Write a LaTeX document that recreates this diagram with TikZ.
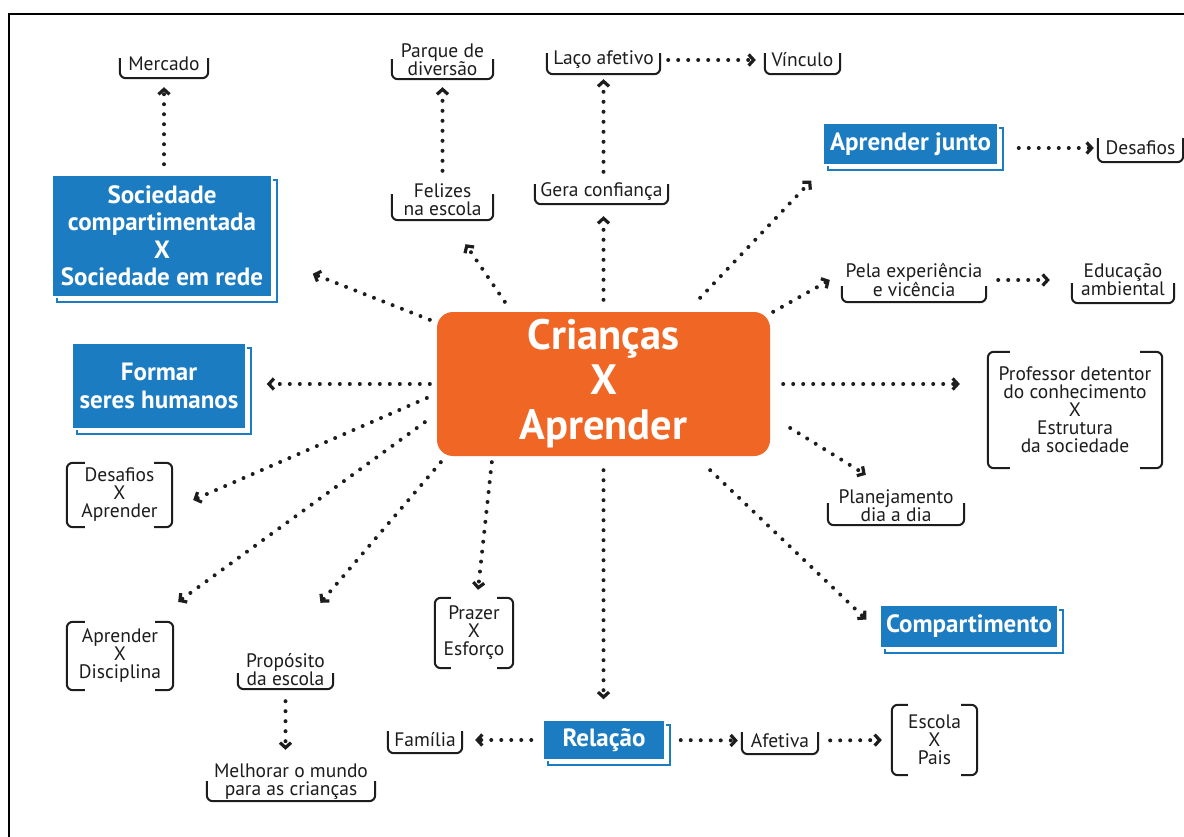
\documentclass[tikz,border=0pt]{standalone}
\usepackage{fontspec}
\setmainfont{PT Sans}
\usetikzlibrary{arrows.meta,calc,shadows}
\definecolor{bblue}{RGB}{28,124,194}
\definecolor{corange}{RGB}{240,102,36}
\definecolor{ink}{RGB}{30,28,30}
\newcommand{\lbf}{\fontsize{19.5}{18}\selectfont}
\newcommand{\bxf}{\fontsize{25}{27.5}\selectfont\bfseries}
\newcommand{\cnf}{\fontsize{42.5}{45}\selectfont\bfseries}
\newcommand{\ubr}[2]{\draw[brk] ([yshift=#2pt]#1.south west) -- (#1.south west) -- (#1.south east) -- ([yshift=#2pt]#1.south east);}
\newcommand{\fbr}[2]{\draw[brk] ([xshift=#2pt]#1.north west) -- (#1.north west) -- (#1.south west) -- ([xshift=#2pt]#1.south west);
  \draw[brk] ([xshift=-#2pt]#1.north east) -- (#1.north east) -- (#1.south east) -- ([xshift=-#2pt]#1.south east);}
\tikzset{
  lbl/.style={font=\lbf, text=ink, align=center, inner sep=0pt},
  brk/.style={draw=ink, line width=2pt, rounded corners=6pt},
  bbox/.style={font=\bxf, text=white, align=center, inner sep=0pt, fill=bblue, draw=white, line width=1.5pt,
    general shadow={shadow xshift=5pt, shadow yshift=-5pt, draw=bblue, fill=white, line width=1.5pt}},
  ar/.style={draw=ink, line width=4pt, dash pattern=on 0pt off 10pt, line cap=round,
    -{Straight Barb[length=5pt,width=11pt,line width=3.2pt]}},
}
\begin{document}
\begin{tikzpicture}[x=1pt,y=-1pt]
\useasboundingbox (0,0) rectangle (1184,837);
\fill[white] (0,0) rectangle (1184,837);
\draw[line width=2.5pt, black] (9,837) -- (9,14) -- (1184,14);

% central
\node[fill=corange, rounded corners=16pt, minimum width=333pt, minimum height=144pt, inner sep=0pt,
  font=\cnf, text=white, align=center] (cen) at (603.5,384) {Crianças\\X\\Aprender};

% blue boxes
\node[bbox, minimum width=220pt, minimum height=122pt] (soc) at (162,236) {Sociedade\\compartimentada\\X\\Sociedade em rede};
\node[bbox, minimum width=174pt, minimum height=86pt] (form) at (159,386) {Formar\\seres humanos};
\node[bbox, minimum width=175pt, minimum height=42pt] (junto) at (910.5,144) {Aprender junto};
\node[bbox, minimum width=178pt, minimum height=43pt] (comp) at (969,626.5) {Compartimento};
\node[bbox, minimum width=122pt, minimum height=40pt] (rel) at (604,740) {Relação};

% U-bracket labels
\node[lbl, minimum width=88pt, minimum height=28pt] (merc) at (164,64) {Mercado};
\node[lbl, minimum width=101pt, minimum height=39pt] (parq) at (442.5,59.5) {Parque de\\diversão};
\node[lbl, minimum width=101pt, minimum height=40pt] (fel) at (442.5,200) {Felizes\\na escola};
\node[lbl, minimum width=113pt, minimum height=28pt] (laco) at (603.5,60) {Laço afetivo};
\node[lbl, minimum width=75pt, minimum height=28pt] (vinc) at (802.5,60) {Vínculo};
\node[lbl, minimum width=133pt, minimum height=24pt] (gera) at (601.5,192) {Gera confiança};
\node[lbl, minimum width=85pt, minimum height=28pt] (desR) at (1140.5,148) {Desafios};
\node[lbl, minimum width=144pt, minimum height=44pt] (pela) at (914,280) {Pela experiência\\e vicência};
\node[lbl, minimum width=102pt, minimum height=46pt] (educ) at (1123,280) {Educação\\ambiental};
\node[lbl, minimum width=136pt, minimum height=38pt] (plan) at (896,506) {Planejamento\\dia a dia};
\node[lbl, minimum width=95pt, minimum height=39pt] (prop) at (285.5,669.5) {Propósito\\da escola};
\node[lbl, minimum width=168pt, minimum height=39pt] (melh) at (291,781.5) {Melhorar o mundo\\para as crianças};
\node[lbl, minimum width=74pt, minimum height=26pt] (fam) at (425,740) {Família};
\node[lbl, minimum width=76pt, minimum height=27pt] (afet) at (780,740.5) {Afetiva};
\ubr{merc}{20}
\ubr{parq}{20}
\ubr{fel}{26}
\ubr{laco}{21}
\ubr{vinc}{21}
\ubr{gera}{20}
\ubr{desR}{24}
\ubr{pela}{16}
\ubr{educ}{20}
\ubr{plan}{22}
\ubr{prop}{16}
\ubr{melh}{20}
\ubr{fam}{22}
\ubr{afet}{22}

% full-bracket labels
\node[lbl, minimum width=105pt, minimum height=64pt] (desap) at (119.5,495) {Desafios\\X\\Aprender};
\node[lbl, minimum width=106pt, minimum height=68pt] (apdis) at (120,656) {Aprender\\X\\Disciplina};
\node[lbl, minimum width=78pt, minimum height=70pt] (praz) at (474,633) {Prazer\\X\\Esforço};
\node[lbl, minimum width=85pt, minimum height=70pt] (esc) at (934.5,740) {Escola\\X\\Pais};
\node[lbl, minimum width=174pt, minimum height=116pt] (prof) at (1075,410) {Professor detentor\\do conhecimento\\X\\Estrutura\\da sociedade};
\fbr{desap}{18}
\fbr{apdis}{18}
\fbr{praz}{16}
\fbr{esc}{16}
\fbr{prof}{22}

% connectors
\draw[ar] ($(cen.north west)+(-7,8)$) -- ($(soc.south east)+(40,-24)$);
\draw[ar] ($(cen.north west)+(68,-10)$) -- ($(fel.south)+(23,24)$);
\draw[ar, shorten <=12pt, shorten >=12pt] (cen.north) -- (cen.north |- gera.south);
\draw[ar, shorten <=8pt, shorten >=5pt] (laco.south |- gera.north) -- (laco.south);
\draw[ar, shorten <=9pt, shorten >=8pt] (parq.south |- fel.north) -- (parq.south);
\draw[ar, shorten <=10pt, shorten >=9pt] (merc.south |- soc.north) -- (merc.south);
\draw[ar, shorten <=8pt, shorten >=9pt] (laco.east) -- (vinc.west);
\draw[ar] ($(cen.north east)+(-70,-14)$) -- ($(junto.south west)+(-11,15)$);
\draw[ar, shorten <=20pt, shorten >=4pt] (junto.east |- desR.west) -- (desR.west);
\draw[ar] ($(cen.north east)+(3,0)$) -- ($(pela.west)+(-12,0)$);
\draw[ar, shorten <=12pt, shorten >=22pt] (pela.east) -- (educ.west);
\draw[ar, shorten <=13pt, shorten >=28pt] (cen.east) -- (cen.east -| prof.west);
\draw[ar] ($(cen.east)+(20,44)$) -- ($(plan.north west)+(38,-12)$);
\draw[ar] ($(cen.south east)+(-60,14)$) -- ($(comp.west)+(-13,-7)$);
\draw[ar, shorten <=14pt, shorten >=20pt] (cen.south) -- (cen.south |- rel.north);
\draw[ar, shorten <=11pt, shorten >=13pt] (rel.west) -- (fam.east);
\draw[ar, shorten <=15pt, shorten >=4pt] (rel.east) -- (afet.west);
\draw[ar, shorten <=12pt, shorten >=10pt] (afet.east) -- (esc.west);
\draw[ar] ($(cen.south west)+(55,6)$) -- ($(praz.north)+(4,-8)$);
\draw[ar] ($(cen.south west)+(4,6)$) -- ($(prop.north)+(35,-47)$);
\draw[ar] ($(cen.south west)+(-12,-34)$) -- ($(apdis.north east)+(5,-20)$);
\draw[ar] ($(cen.west)+(-10,14)$) -- ($(desap.east)+(21,5)$);
\draw[ar, shorten <=7pt, shorten >=20pt] (cen.west) -- (cen.west -| form.east);
\draw[ar, shorten <=12pt, shorten >=12pt] (prop.south) -- (prop.south |- melh.north);
\end{tikzpicture}
\end{document}
